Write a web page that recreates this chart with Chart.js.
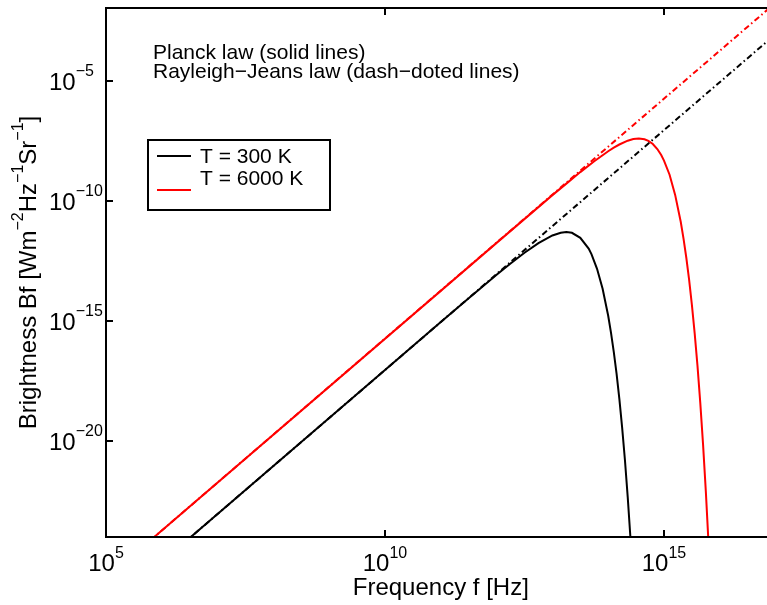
<!DOCTYPE html>
<html>
<head>
<meta charset="utf-8">
<script src="https://cdn.jsdelivr.net/npm/chart.js@4.4.1/dist/chart.umd.min.js"></script>
<style>
  html, body { margin: 0; padding: 0; background: #fff; overflow: hidden; }
  #wrap { width: 767px; height: 605px; position: relative; }
</style>
</head>
<body>
<div id="wrap"><canvas id="planckChart"></canvas></div>
<script>
// values, as powers of ten
var logFreq300 = [6.4, 11, 11.5, 12, 12.25, 12.5, 12.75, 13, 13.15, 13.25, 13.35, 13.5, 13.65, 13.7,
  13.8, 13.9, 14.0, 14.05, 14.1, 14.15, 14.2, 14.25, 14.3, 14.35, 14.4, 14.45];
var logBright300 = [-24.24, -15.04, -14.05, -13.07, -12.60, -12.15, -11.75, -11.43, -11.32, -11.29, -11.32, -11.53, -11.98, -12.21,
  -12.82, -13.65, -14.78, -15.48, -16.28, -17.19, -18.24, -19.44, -20.79, -22.34, -24.08, -26.06];

var logFreq6000 = [5.8, 12, 13, 13.25, 13.5, 13.75, 14.0, 14.1, 14.2, 14.35, 14.45, 14.55, 14.65, 14.72, 14.8,
  14.88, 14.95, 15.0, 15.1, 15.2, 15.3, 15.35, 15.4, 15.45, 15.5, 15.55, 15.6, 15.65, 15.7, 15.75, 15.8];
var logBright6000 = [-24.13, -11.74, -9.75, -9.27, -8.79, -8.34, -7.92, -7.77, -7.64, -7.48, -7.41, -7.39, -7.42, -7.49, -7.62,
  -7.83, -8.08, -8.31, -8.90, -9.74, -10.86, -11.56, -12.36, -13.27, -14.32, -15.51, -16.86, -18.40, -20.14, -22.11, -24.35];

// Rayleigh-Jeans straight lines (two ends each)
var logFreqRJ300 = [6.4, 17];
var logBrightRJ300 = [-24.24, -3.04];
var logFreqRJ6000 = [5.8, 17];
var logBrightRJ6000 = [-24.13, -1.73];

var xTickValues = [1e5, 1e10, 1e15];
var xTickExps = ["5", "10", "15"];
var yTickValues = [1e-5, 1e-10, 1e-15, 1e-20];
var yTickExps = ["\u22125", "\u221210", "\u221215", "\u221220"];

var legendLabels = ["T = 300 K", "T = 6000 K"];
var noteLines = ["Planck law (solid lines)", "Rayleigh\u2212Jeans law (dash\u2212doted lines)"];

function toPoints(lf, lb) {
  return lf.map(function (f, i) {
    return { x: Math.pow(10, f), y: Math.pow(10, lb[i]) };
  });
}

var FONT = '"Liberation Sans", Arial, Helvetica, sans-serif';

// draw a run of text pieces, some of them superscripts; returns width
function supWidth(ctx, parts, big, small) {
  var w = 0;
  parts.forEach(function (p) {
    ctx.font = (p.sup ? small : big) + "px " + FONT;
    w += ctx.measureText(p.t).width;
  });
  return w;
}
function drawSup(ctx, parts, x, y, big, small, rise) {
  parts.forEach(function (p) {
    ctx.font = (p.sup ? small : big) + "px " + FONT;
    ctx.fillText(p.t, x, p.sup ? y - rise : y);
    x += ctx.measureText(p.t).width;
  });
}

var decorPlugin = {
  id: "decor",
  afterDraw: function (chart) {
    var ctx = chart.ctx;
    var area = chart.chartArea;
    var xs = chart.scales.x, ys = chart.scales.y;
    ctx.save();
    ctx.strokeStyle = "#000";
    ctx.fillStyle = "#000";
    ctx.lineWidth = 2;

    // frame: left, bottom, top
    ctx.beginPath();
    ctx.moveTo(area.left, area.top);
    ctx.lineTo(area.right + 2, area.top);
    ctx.moveTo(area.left, area.top - 1);
    ctx.lineTo(area.left, area.bottom + 1);
    ctx.moveTo(area.left - 1, area.bottom);
    ctx.lineTo(area.right + 2, area.bottom);
    ctx.stroke();

    // inward ticks
    ctx.beginPath();
    xTickValues.forEach(function (v) {
      var px = Math.round(xs.getPixelForValue(v));
      ctx.moveTo(px, area.bottom);
      ctx.lineTo(px, area.bottom - 7);
      ctx.moveTo(px, area.top);
      ctx.lineTo(px, area.top + 7);
    });
    yTickValues.forEach(function (v) {
      var py = Math.round(ys.getPixelForValue(v));
      ctx.moveTo(area.left, py);
      ctx.lineTo(area.left + 7, py);
    });
    ctx.stroke();

    // tick labels
    ctx.textBaseline = "alphabetic";
    ctx.textAlign = "left";
    xTickValues.forEach(function (v, i) {
      var parts = [{ t: "10" }, { t: xTickExps[i], sup: true }];
      var w = supWidth(ctx, parts, 24, 16);
      var px = xs.getPixelForValue(v);
      drawSup(ctx, parts, px - w / 2, area.bottom + 34, 24, 16, 13);
    });
    yTickValues.forEach(function (v, i) {
      var parts = [{ t: "10" }, { t: yTickExps[i], sup: true }];
      var py = ys.getPixelForValue(v);
      drawSup(ctx, parts, 49, py + 9, 24, 16, 14);
    });

    // axis titles
    ctx.font = "24px " + FONT;
    ctx.textAlign = "center";
    var fullRight = xs.getPixelForValue(1e17);
    ctx.fillText("Frequency f [Hz]", (area.left + fullRight) / 2, 595);

    var yParts = [{ t: "Brightness Bf [Wm" }, { t: "\u22122", sup: true }, { t: "Hz" },
      { t: "\u22121", sup: true }, { t: "Sr" }, { t: "\u22121", sup: true }, { t: "]" }];
    ctx.textAlign = "left";
    var yw = supWidth(ctx, yParts, 24, 16);
    ctx.save();
    ctx.translate(36, (area.top + area.bottom) / 2);
    ctx.rotate(-Math.PI / 2);
    drawSup(ctx, yParts, -yw / 2, 0, 24, 16, 13);
    ctx.restore();

    // note text
    ctx.font = "21px " + FONT;
    ctx.fillText(noteLines[0], 153, 59);
    ctx.fillText(noteLines[1], 153, 78);

    // legend box
    ctx.fillStyle = "#fff";
    ctx.fillRect(148, 140, 182, 70);
    ctx.strokeStyle = "#000";
    ctx.lineWidth = 2;
    ctx.strokeRect(148, 140, 182, 70);
    ctx.beginPath();
    ctx.moveTo(157, 156);
    ctx.lineTo(191, 156);
    ctx.stroke();
    ctx.strokeStyle = "#ff0000";
    ctx.beginPath();
    ctx.moveTo(157, 190);
    ctx.lineTo(191, 190);
    ctx.stroke();
    ctx.fillStyle = "#000";
    ctx.font = "21px " + FONT;
    ctx.fillText(legendLabels[0], 200, 163);
    ctx.fillText(legendLabels[1], 200, 185);

    ctx.restore();
  }
};

var ctx = document.getElementById("planckChart").getContext("2d");
var myChart = new Chart(ctx, {
  type: "line",
  data: {
    datasets: [
      {
        label: "RJ 300 K",
        data: toPoints(logFreqRJ300, logBrightRJ300),
        borderColor: "#000000",
        borderWidth: 2,
        borderDash: [6, 3, 1.5, 3],
        order: 0,
      },
      {
        label: "RJ 6000 K",
        data: toPoints(logFreqRJ6000, logBrightRJ6000),
        borderColor: "#ff0000",
        borderWidth: 2,
        borderDash: [6, 3, 1.5, 3],
        order: 1,
      },
      {
        label: "T = 300 K",
        data: toPoints(logFreq300, logBright300),
        borderColor: "#000000",
        borderWidth: 2,
        order: 2,
      },
      {
        label: "T = 6000 K",
        data: toPoints(logFreq6000, logBright6000),
        borderColor: "#ff0000",
        borderWidth: 2,
        order: 3,
      },
    ],
  },
  options: {
    responsive: true,
    maintainAspectRatio: false,
    animation: false,
    events: [],
    layout: { padding: { top: 8, right: 0, bottom: 0, left: 0 } },
    elements: {
      point: { radius: 0 },
      line: { tension: 0, fill: false },
    },
    scales: {
      x: {
        type: "logarithmic",
        min: 1e5,
        max: Math.pow(10, 16.846),
        ticks: { display: false },
        grid: { display: false },
        border: { display: false },
        afterFit: function (scale) { scale.height = 68; },
      },
      y: {
        type: "logarithmic",
        min: 1e-24,
        max: Math.pow(10, -1.95),
        ticks: { display: false },
        grid: { display: false },
        border: { display: false },
        afterFit: function (scale) { scale.width = 106; },
      },
    },
    plugins: {
      legend: { display: false },
      tooltip: { enabled: false },
    },
  },
  plugins: [decorPlugin],
});
</script>
</body>
</html>
